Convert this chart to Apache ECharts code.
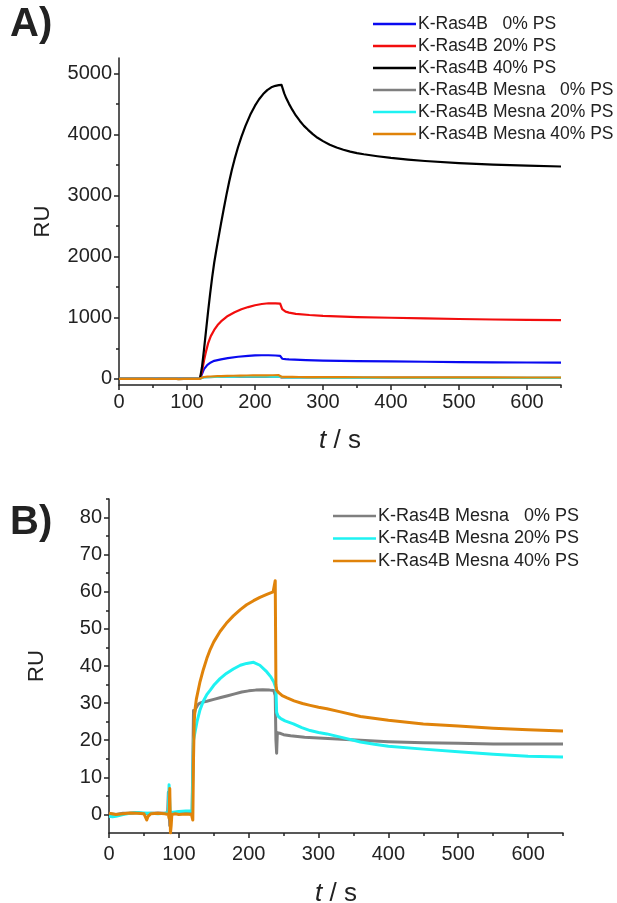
<!DOCTYPE html>
<html><head><meta charset="utf-8">
<script src="https://cdn.jsdelivr.net/npm/echarts@6/dist/echarts.min.js"></script>
<style>html,body{margin:0;padding:0;background:#fff}#c{width:617px;height:903px}</style>
</head><body><div id="c"></div><script>
// ---- tick labels ----
const xTicks = [0,100,200,300,400,500,600];
const xMinor = [50,150,250,350,450,550,650];
const yTicksA = [0,1000,2000,3000,4000,5000];
const yMinorA = [500,1500,2500,3500,4500];
const yTicksB = [0,10,20,30,40,50,60,70,80];
const yMinorB = [5,15,25,35,45,55,65,75,85];

// ---- series names ----
const namesA = ['K-Ras4B \u20070% PS','K-Ras4B 20% PS','K-Ras4B 40% PS'];
const namesM = ['K-Ras4B Mesna \u20070% PS','K-Ras4B Mesna 20% PS','K-Ras4B Mesna 40% PS'];

// ---- panel A (no Mesna) ----
const tBlue = [0,60,119,120,122,125,130,135,140,150,160,175,190,200,210,220,230,237,238,240,245,250,275,300,350,400,450,500,550,600,650];
const vBlue = [0,0,0,0,80,160,230,270,295,320,340,362,378,385,387,387,383,378,360,330,322,318,308,300,292,285,280,275,271,268,265];
const tRed = [0,119,120,122,125,128,131,135,140,145,150,160,170,180,190,200,210,220,230,237,238,240,245,250,260,280,300,350,400,450,500,550,600,650];
const vRed = [0,0,0,120,300,450,580,700,800,880,940,1030,1090,1140,1175,1205,1225,1237,1237,1232,1200,1140,1100,1085,1065,1045,1030,1012,1000,990,980,972,965,960];
const tBlack = [0,119,120,122,125,128,131,134,137,140,143,146,150,154,158,162,166,170,175,180,186,193,200,206,212,218,224,230,235,239,241,243,246,250,255,260,266,272,278,285,292,300,310,320,330,340,350,360,380,400,425,450,500,550,600,650];
const vBlack = [0,0,0,190,480,790,1100,1390,1660,1900,2100,2290,2540,2780,3010,3225,3420,3595,3790,3960,4140,4320,4470,4575,4660,4725,4770,4795,4806,4809,4740,4670,4590,4500,4400,4310,4220,4140,4075,4005,3945,3890,3830,3785,3748,3718,3694,3675,3643,3615,3588,3565,3530,3505,3488,3475];

// ---- Mesna series (panel B, also in A) ----
const tGray = [0,10,20,30,40,50,60,70,80,84,85,86,87,88,89,90,95,100,110,119,120,121,122,124,127,130,135,140,150,160,170,180,190,200,210,220,230,236,238,239,240,241,243,246,250,260,270,280,300,320,340,360,380,400,450,500,550,600,650];
const vGray = [0.2,0,0.3,0.3,0.5,0.2,0.3,0.4,0.3,0.5,6,2,-3,-1,0.5,0.6,0.5,0.6,0.6,0.5,0.6,28,27,28.5,29.5,30,30.3,30.5,31,31.5,32,32.5,33,33.3,33.5,33.6,33.5,33.4,32,20,16.5,22,22.2,21.8,21.5,21.2,21,20.8,20.6,20.4,20.2,20,19.8,19.6,19.3,19.2,19,19,19];
const tCyan = [0,5,10,20,30,40,50,60,70,80,85,86,87,88,89,90,100,110,119,120,121,123,126,130,135,140,145,150,159,168,178,188,197,207,216,226,232,236,239,240,242,246,252,264,276,288,300,312,330,360,380,400,450,500,550,600,650];
const vCyan = [-0.5,-0.6,-0.5,0,0.3,0.5,0.4,0.3,0.2,0.3,0.5,8,3,-1,0.5,0.8,0.8,0.9,0.9,1,20,22,25,28,30.5,32.3,33.5,34.8,36.6,38,39.2,40.2,40.7,41,40.2,38.4,37,35.7,34,27.5,26.5,25.8,25.2,24.4,23.4,22.6,22.1,21.7,20.9,19.5,18.9,18.4,17.6,16.9,16.2,15.7,15.5];
const tOrange = [0,10,20,30,40,50,54,56,60,70,80,85,86,87,88,89,90,95,100,110,118,120,121,122,123,125,130,135,140,145,150,159,168,178,188,197,207,216,226,235,237,238,239,240,243,248,255,265,277,288,300,312,330,360,400,450,500,550,600,650];
const vOrange = [0.3,0,0.2,0.4,0.3,0.2,-1.5,-0.5,0.2,0.3,0.2,0,-1,7,-5,-3,0,0.2,0,0.1,0,-1.5,15,25,28,31,35.5,39,42,44.5,46.5,49.3,51.5,53.5,55.2,56.5,57.6,58.5,59.3,60,60.5,63,35,33.5,32.8,32,31.4,30.6,29.9,29.4,28.9,28.5,27.7,26.4,25.4,24.4,23.8,23.2,22.8,22.5];

const colors = {blue:'#0a0af0', red:'#f20d0d', black:'#000000', gray:'#7f7f7f', cyan:'#1ef2f2', orange:'#e0830a'};

function zip(t, v){ return t.map((x,i)=>[x, v[i]]); }
const FONT = 'Liberation Sans';
const AX = '#222';

function mainAxis(grid, min, max, ticks, pos, margin, extra){
  return Object.assign({
    type:'value', gridIndex:grid, min:min, max:max, position:pos,
    axisLine:{show:true, onZero:false, lineStyle:{color:AX, width:1.5}},
    axisTick:{show:true, inside:false, length:5, customValues:ticks, lineStyle:{color:AX, width:1.5}},
    axisLabel:{show:true, customValues:ticks, color:'#222', fontSize:20, fontFamily:FONT, margin:margin, formatter:v=>String(v)},
    splitLine:{show:false}
  }, extra||{});
}
function minorAxis(grid, min, max, ticks, pos){
  return {
    type:'value', gridIndex:grid, min:min, max:max, position:pos, offset:0,
    axisLine:{show:false, onZero:false},
    axisTick:{show:true, inside:false, length:3, customValues:ticks, lineStyle:{color:AX, width:1.5}},
    axisLabel:{show:false},
    splitLine:{show:false}
  };
}
function xName(gap){ return {
  name:'{i|t} / s', nameLocation:'middle', nameGap:gap,
  nameTextStyle:{fontSize:26, fontFamily:FONT, color:'#222', rich:{i:{fontStyle:'italic', fontSize:26, fontFamily:FONT, color:'#222'}}}
};}
function yName(gap){ return {name:'RU', nameLocation:'middle', nameGap:gap, nameTextStyle:{fontSize:22, fontFamily:FONT, color:'#222'}}; }

function line(name, data, color, xi, yi, w){
  return {type:'line', name:name, data:data, xAxisIndex:xi, yAxisIndex:yi, symbol:'none', showSymbol:false,
    lineStyle:{color:color, width:w, join:'round'}, itemStyle:{color:color}, animation:false, z:2};
}

const chart = echarts.init(document.getElementById('c'), null, {renderer:'canvas'});
chart.setOption({
  backgroundColor:'#fff',
  animation:false,
  grid:[
    {left:119, top:58, width:442, height:327, containLabel:false, outerBoundsMode:'none'},
    {left:109, top:499, width:454, height:334, containLabel:false, outerBoundsMode:'none'}
  ],
  xAxis:[
    mainAxis(0, 0, 650, xTicks, 'bottom', 7, xName(43)),
    minorAxis(0, 0, 650, xMinor, 'bottom'),
    mainAxis(1, 0, 650, xTicks, 'bottom', 11, xName(48)),
    minorAxis(1, 0, 650, xMinor, 'bottom')
  ],
  yAxis:[
    mainAxis(0, -100, 5250, yTicksA, 'left', 7, yName(65)),
    minorAxis(0, -100, 5250, yMinorA, 'left'),
    mainAxis(1, -5, 85, yTicksB, 'left', 7, yName(61)),
    minorAxis(1, -5, 85, yMinorB, 'left')
  ],
  legend:[
    {data:namesA.concat(namesM), orient:'vertical', left:373, top:15, padding:0, itemWidth:43, itemHeight:2.5, itemGap:4, icon:'rect',
     textStyle:{fontSize:17.5, fontFamily:FONT, color:'#222', lineHeight:17.5, padding:[0,0,0,-3]}, selectedMode:false},
    {data:namesM, orient:'vertical', left:333, top:507, padding:0, itemWidth:43, itemHeight:2.5, itemGap:4.5, icon:'rect',
     textStyle:{fontSize:18, fontFamily:FONT, color:'#222', lineHeight:18, padding:[0,0,0,-3]}, selectedMode:false}
  ],
  graphic:[
    {type:'text', left:10, top:5, style:{text:'A)', fontSize:40, fontWeight:'bold', fontFamily:FONT, fill:'#222'}},
    {type:'text', left:10, top:503, style:{text:'B)', fontSize:40, fontWeight:'bold', fontFamily:FONT, fill:'#222'}}
  ],
  series:[
    line(namesA[0], zip(tBlue,vBlue), colors.blue, 0, 0, 2.2),
    line(namesA[1], zip(tRed,vRed), colors.red, 0, 0, 2.2),
    line(namesA[2], zip(tBlack,vBlack), colors.black, 0, 0, 2.2),
    line(namesM[0], zip(tGray,vGray), colors.gray, 0, 0, 2.2),
    line(namesM[1], zip(tCyan,vCyan), colors.cyan, 0, 0, 2.2),
    line(namesM[2], zip(tOrange,vOrange), colors.orange, 0, 0, 2.2),
    line(namesM[0], zip(tGray,vGray), colors.gray, 2, 2, 3),
    line(namesM[1], zip(tCyan,vCyan), colors.cyan, 2, 2, 3),
    line(namesM[2], zip(tOrange,vOrange), colors.orange, 2, 2, 3)
  ]
});
</script></body></html>
